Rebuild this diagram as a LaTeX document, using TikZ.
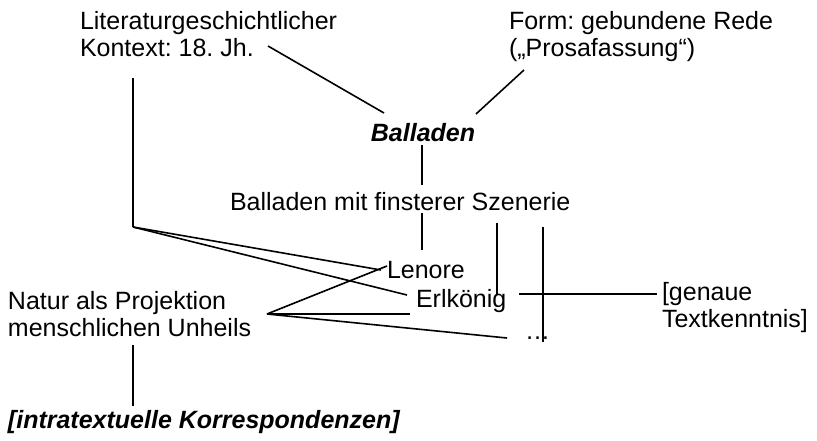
\documentclass[tikz,border=0pt]{standalone}
\usepackage{fontspec}
\setmainfont{Liberation Sans}
\frenchspacing
\begin{document}
\begin{tikzpicture}[x=1pt,y=-1pt,
  lbl/.style={inner sep=0pt, outer sep=0pt, align=left, font=\fontsize{25}{27.5}\selectfont},
  bilbl/.style={lbl, font=\fontsize{25}{27.5}\selectfont\bfseries\itshape},
  conn/.style={line width=1.6pt, line cap=butt}]
\useasboundingbox (0,0) rectangle (817,440);
% texts
\node[lbl, anchor=north west] (lit) at (80,11) {Literaturgeschichtlicher\\Kontext: 18. Jh.};
\node[lbl, anchor=north west] (form) at (509,11) {Form: gebundene Rede\\(„Prosafassung“)};
\node[bilbl, anchor=base] (bal) at (423,141) {Balladen};
\node[lbl, anchor=base west] (fin) at (230,210) {Balladen mit finsterer Szenerie};
\node[lbl, anchor=base west] (len) at (387,278) {Lenore};
\node[lbl, anchor=base west] (erl) at (416,307) {Erlkönig};
\node[lbl, anchor=base west] (dots) at (525,339) {…};
\node[lbl, anchor=north west] (gen) at (662,282) {[genaue\\Textkenntnis]};
\node[lbl, anchor=north west] (nat) at (8,291) {Natur als Projektion\\menschlichen Unheils};
\node[bilbl, anchor=base west] (intra) at (8,428) {[intratextuelle Korrespondenzen]};
% connector end points
\coordinate (litA) at (268,46);
\coordinate (balL) at (384,113);
\coordinate (formA) at (524,70);
\coordinate (balR) at (476,114);
\coordinate (balB) at (422,145);
\coordinate (finT) at (422,185);
\coordinate (litB) at (133,78);
\coordinate (hub) at (133,227);
\coordinate (lenL) at (381,270);
\coordinate (erlL) at (407,295);
\coordinate (finB) at (422,213);
\coordinate (lenT) at (422,250);
\coordinate (finR1) at (497,223);
\coordinate (erlR) at (497,295);
\coordinate (finR2) at (543,227);
\coordinate (dotsB) at (543,342);
\coordinate (erlE) at (519,294);
\coordinate (genL) at (657,294);
\coordinate (natR) at (267,314);
\coordinate (lenL2) at (387,266);
\coordinate (erlL2) at (410,314);
\coordinate (dotsL) at (507,338);
\coordinate (natB) at (133,345);
\coordinate (intraT) at (133,406);
% connectors
\draw[conn] (litA) -- (balL);
\draw[conn] (formA) -- (balR);
\draw[conn] (balB) -- (finT);
\draw[conn] (litB) -- (hub);
\draw[conn] (hub) -- (lenL);
\draw[conn] (hub) -- (erlL);
\draw[conn] (finB) -- (lenT);
\draw[conn] (finR1) -- (erlR);
\draw[conn] (finR2) -- (dotsB);
\draw[conn] (erlE) -- (genL);
\draw[conn] (natR) -- (lenL2);
\draw[conn] (natR) -- (erlL2);
\draw[conn] (natR) -- (dotsL);
\draw[conn] (natB) -- (intraT);
\end{tikzpicture}
\end{document}
